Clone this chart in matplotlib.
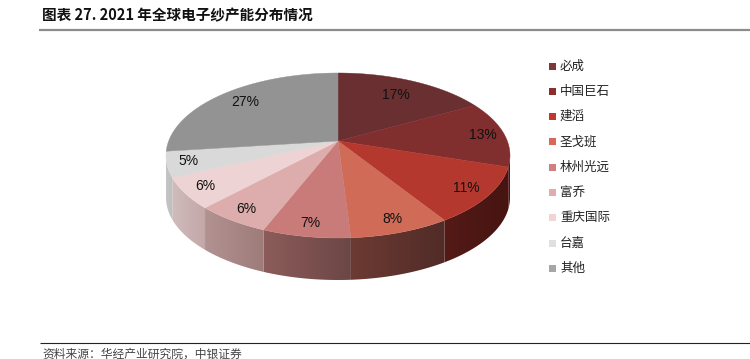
import numpy as np
import matplotlib
matplotlib.use("Agg")
import matplotlib.pyplot as plt
from matplotlib.patches import Polygon, Rectangle
from matplotlib.colors import to_rgb

# ---- data ----
companies = ["必成", "中国巨石", "建滔", "圣戈班", "林州光远", "富乔", "重庆国际", "台嘉", "其他"]
shares = [17, 13, 11, 8, 7, 6, 6, 5, 27]
title = "图表 27. 2021 年全球电子纱产能分布情况"
source = "资料来源：华经产业研究院，中银证券"

# ---- styles ----
top_colors = ["#6a2f30", "#812e2e", "#b5382f", "#d06b57", "#c97b7a",
              "#dcadac", "#eed3d4", "#d9d9d9", "#939393"]
legend_colors = ["#7a3a3a", "#8d2d2d", "#c0392f", "#d8695a", "#d08080",
                 "#e0adac", "#f0d5d5", "#e0e0e0", "#a6a6a6"]
# side wall shading (left edge, right edge) for each wedge
side_colors = [("#5a2426", "#4d1f20"), ("#561b18", "#4a1613"), ("#541a16", "#461411"),
               ("#6c3b33", "#512b27"), ("#8c5c5a", "#6c4646"), ("#b39292", "#9c7b79"),
               ("#d2bcbc", "#c2a7a7"), ("#c6c6c6", "#bdbdbd"), ("#808080", "#707070")]
label_radius = [0.75, 0.87, 0.87, 0.88, 0.88, 0.88, 0.88, 0.88, 0.80]

CJK = ["Noto Sans CJK SC", "DejaVu Sans"]
NUM = ["Liberation Sans Narrow", "Liberation Sans", "DejaVu Sans"]

# pie geometry (pixel space)
cx, cy, rx, ry = 338.0, 155.5, 172.0, 82.5
tilt = 0.176          # perspective shift of the centre towards the back
depth = 42.0          # wall thickness
t = np.arctanh(tilt)
ch, sh = np.cosh(t), np.sinh(t)


def project(theta_deg, r=1.0):
    """Clockwise angle from 12 o'clock on the disc -> pixel coordinates."""
    th = np.radians(theta_deg)
    x, y = r * np.sin(th), r * np.cos(th)
    w = y * sh + ch
    X, Y = x / w, (y * ch + sh) / w
    return cx + rx * X, cy - ry * Y


fig = plt.figure(figsize=(7.5, 3.59), dpi=100)
ax = fig.add_axes([0, 0, 1, 1])
ax.axis("off")

total = float(sum(shares))
bounds = np.concatenate([[0], np.cumsum(shares)]) / total * 360.0
vis_lo, vis_hi = np.degrees(np.arccos(-tilt)), 360 - np.degrees(np.arccos(-tilt))

# side walls, each filled with a horizontal gradient
for i in range(len(shares)):
    a0, a1 = max(bounds[i], vis_lo), min(bounds[i + 1], vis_hi)
    if a1 <= a0:
        continue
    angs = np.linspace(a0, a1, max(4, int((a1 - a0) * 2)))
    top = [project(a) for a in angs]
    bot = [(x, y + depth) for x, y in top[::-1]]
    pts = np.array(top + bot)
    wall = Polygon(pts, closed=True, facecolor="none", edgecolor="none")
    ax.add_patch(wall)
    cl, cr = np.array(to_rgb(side_colors[i][0])), np.array(to_rgb(side_colors[i][1]))
    f = np.linspace(0, 1, 128)[:, None]
    grad = (cl * (1 - f) + cr * f)[None, :, :]
    x0, x1 = pts[:, 0].min() - 1, pts[:, 0].max() + 1
    y0, y1 = pts[:, 1].min() - 1, pts[:, 1].max() + 1
    im = ax.imshow(grad, extent=(x0, x1, y1, y0), aspect="auto",
                   interpolation="bilinear", zorder=1)
    im.set_clip_path(wall)

# top faces
apex = project(0, 0)
for i in range(len(shares)):
    angs = np.linspace(bounds[i], bounds[i + 1], max(3, int(shares[i] * 4)))
    pts = [apex] + [project(a) for a in angs]
    ax.add_patch(Polygon(pts, closed=True, facecolor=top_colors[i],
                         edgecolor=top_colors[i], linewidth=0.3, zorder=2))

# value labels
for i, v in enumerate(shares):
    mid = (bounds[i] + bounds[i + 1]) / 2
    lx, ly = project(mid, label_radius[i])
    ax.text(lx, ly, f"{v}%", ha="center", va="center", fontsize=10,
            family=NUM, color="#111111", zorder=3)

# legend
for i, name in enumerate(companies):
    y = 66 + i * 25.3
    ax.add_patch(Rectangle((549, y - 3.5), 7, 7, facecolor=legend_colors[i], edgecolor="none"))
    ax.text(560, y, name, ha="left", va="center", fontsize=9, family=CJK, color="#222222")

# title and source
ax.text(42, 15, title, ha="left", va="center", fontsize=10.5, fontweight="bold",
        family=CJK, color="#111111")
ax.plot([39, 750], [29.5, 29.5], color="#8c8c8c", linewidth=1.6, solid_capstyle="butt")
ax.plot([40, 750], [343, 343], color="#222222", linewidth=0.8, solid_capstyle="butt")
ax.text(42, 354, source, ha="left", va="center", fontsize=8.5, family=CJK, color="#444444")

ax.set_xlim(0, 750)
ax.set_ylim(359, 0)

fig.savefig("out.png", dpi=100)
